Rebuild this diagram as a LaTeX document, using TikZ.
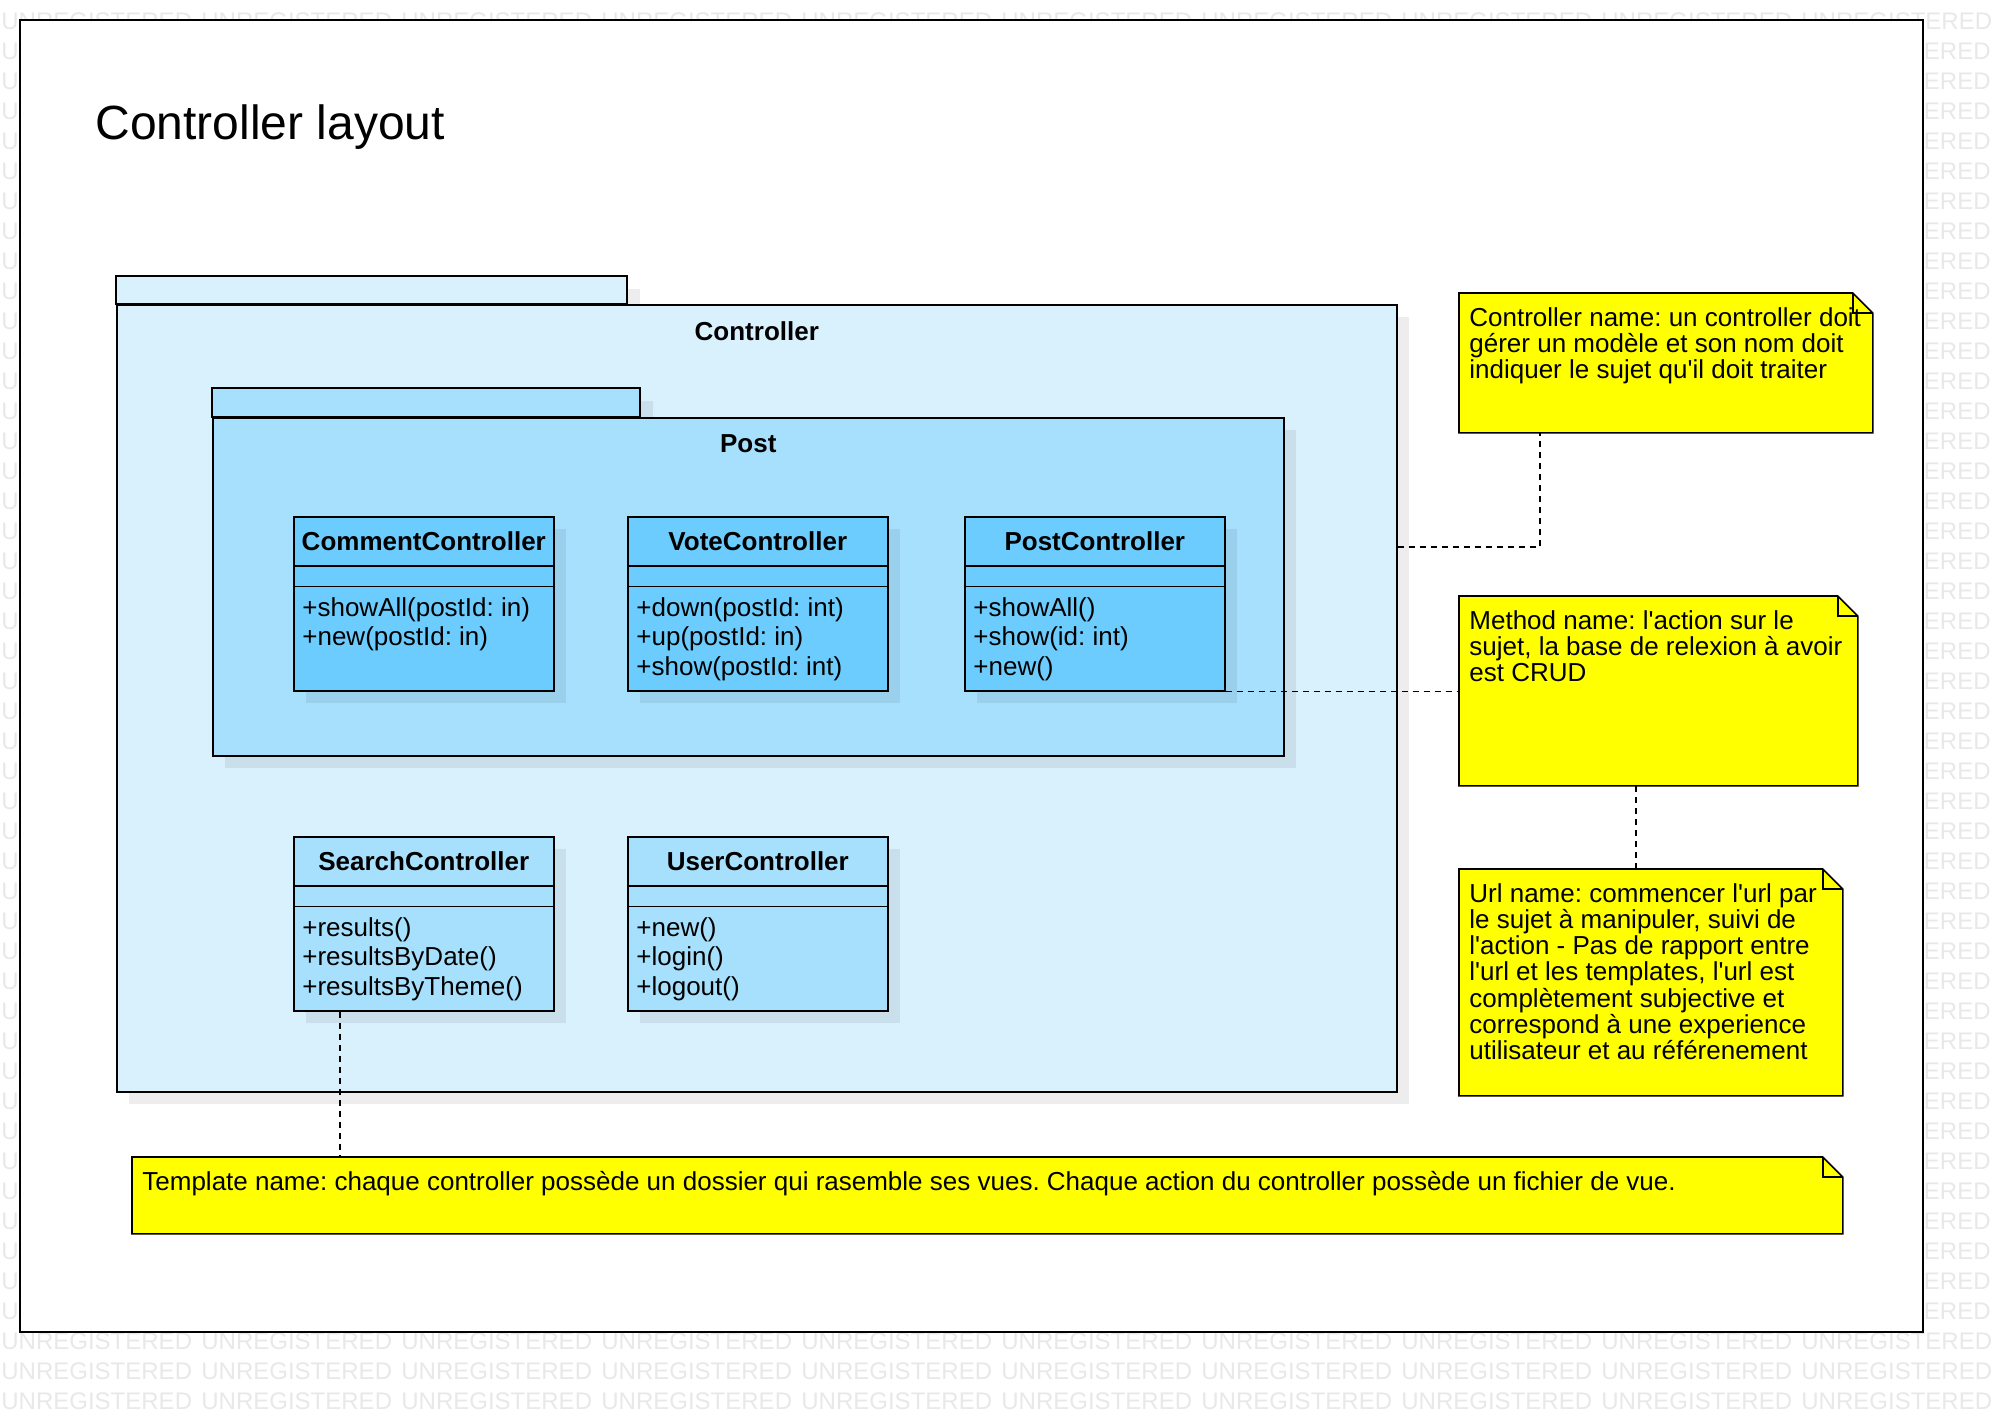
\documentclass[tikz,border=0pt]{standalone}
\usepackage{fontspec}
\newfontfamily\umlfont{Liberation Sans}
\frenchspacing
\definecolor{ctrlpkgblue}{RGB}{217,240,253}
\definecolor{postpkgblue}{RGB}{166,224,253}
\definecolor{classblue}{RGB}{107,204,253}
\definecolor{noteyellow}{RGB}{255,255,0}

\begin{document}
\begin{tikzpicture}[
  outline/.style={draw=black, line width=0.8pt},
  castshadow/.style={fill=black, fill opacity=0.07},
  watermark/.style={anchor=west, inner sep=0pt, text=black!9, font=\umlfont\fontsize{12pt}{12pt}\selectfont},
  pkgbody/.style={outline, anchor=north west, inner sep=0pt},
  pkgname/.style={inner sep=0pt, font=\umlfont\bfseries\fontsize{13pt}{15pt}\selectfont},
  classbox/.style={outline, anchor=north west, inner sep=0pt, minimum width=130pt, minimum height=87pt},
  classname/.style={inner sep=0pt, font=\umlfont\bfseries\fontsize{13pt}{15pt}\selectfont},
  classops/.style={anchor=north west, inner sep=0pt, align=left, font=\umlfont\fontsize{13pt}{14.7pt}\selectfont},
  notebody/.style={anchor=north west, inner sep=0pt},
  notepaper/.style={outline, fill=noteyellow},
  notetext/.style={anchor=north west, inner sep=0pt, align=left, font=\umlfont\fontsize{13pt}{13.1pt}\selectfont},
  notelink/.style={draw=black, line width=0.6pt, dash pattern=on 3pt off 2.5pt}
]
% one unit is one pixel of the exported diagram
\def\umlclass#1#2#3#4#5#6{%
  \fill[castshadow] (#2+13,#3+13) rectangle ++(260,174);
  \node[classbox, fill=#4] (#1) at (#2,#3) {};
  \draw[outline] ([yshift=-25pt]#1.north west) -- ([yshift=-25pt]#1.north east);
  \draw[outline] ([yshift=-35.3pt]#1.north west) -- ([yshift=-35.3pt]#1.north east);
  \node[classname] (#1-name) at ([yshift=-12.5pt]#1.north) {#5};
  \node[classops] (#1-ops) at ([xshift=4.5pt,yshift=-40.5pt]#1.north west) {#6};
}
\def\drawnote#1{%
  \draw[notepaper] (#1.north west) -- ([xshift=-10pt]#1.north east) -- ([yshift=-10pt]#1.north east)
    -- (#1.south east) -- (#1.south west) -- cycle;
  \draw[outline] ([xshift=-10pt]#1.north east) |- ([yshift=-10pt]#1.north east);
}
\begin{scope}[x=0.5pt, y=-0.5pt]
  \useasboundingbox (0,0) rectangle (2004,1412);
  % Watermark: only the parts left outside the frame
  \foreach \r in {0,44,45,46}
    \foreach \c in {0,...,9}
      \node[watermark] (wm-\r-\c) at (200*\c+1, 21+30*\r) {UNREGISTERED};
  \foreach \r in {1,...,43} {
    \node[watermark] (wm-\r-l) at (1, 21+30*\r) {U};
    \node[watermark, anchor=east] (wm-\r-r) at (1991, 21+30*\r) {ERED};
  }
  % Frame
  \draw[outline, fill=white] (20,20) rectangle (1923,1332);
  \node[anchor=base west, inner sep=0pt, font=\umlfont\fontsize{24pt}{28pt}\selectfont] (title) at (95,140) {Controller layout};

  % Controller package
  \fill[castshadow] (129,289) rectangle (640,317);
  \fill[castshadow] (129,317) rectangle (1409,1104);
  \draw[outline, fill=ctrlpkgblue] (116,276) rectangle (627,304);
  \node[pkgbody, fill=ctrlpkgblue, minimum width=640pt, minimum height=393.5pt] (ctrlpkg) at (116,304) {};
  \node[pkgname] (ctrlpkg-name) at ([yshift=-13.5pt]ctrlpkg.north) {Controller};

  % Post package
  \fill[castshadow] (225,401) rectangle (653,430);
  \fill[castshadow] (225,430) rectangle (1296,768);
  \draw[outline, fill=postpkgblue] (212,388) rectangle (640,417);
  \node[pkgbody, fill=postpkgblue, minimum width=535.5pt, minimum height=169pt] (postpkg) at (212,417) {};
  \node[pkgname] (postpkg-name) at ([yshift=-13.5pt]postpkg.north) {Post};

  % Classes
  \umlclass{commentctl}{293}{516}{classblue}{CommentController}{+showAll(postId: in)\\+new(postId: in)}
  \umlclass{votectl}{627}{516}{classblue}{VoteController}{+down(postId: int)\\+up(postId: in)\\+show(postId: int)}
  \umlclass{postctl}{964}{516}{classblue}{PostController}{+showAll()\\+show(id: int)\\+new()}
  \umlclass{searchctl}{293}{836}{postpkgblue}{SearchController}{+results()\\+resultsByDate()\\+resultsByTheme()}
  \umlclass{userctl}{627}{836}{postpkgblue}{UserController}{+new()\\+login()\\+logout()}

  % Notes
  \node[notebody, minimum width=206.5pt, minimum height=69.5pt] (nctrl) at (1459,293) {};
  \drawnote{nctrl}
  \node[notetext] (nctrl-text) at ([xshift=5pt,yshift=-7pt]nctrl.north west)
    {Controller name: un controller doit\\gérer un modèle et son nom doit\\indiquer le sujet qu'il doit traiter};
  \node[notebody, minimum width=199pt, minimum height=94.5pt] (nmeth) at (1459,596) {};
  \drawnote{nmeth}
  \node[notetext] (nmeth-text) at ([xshift=5pt,yshift=-7pt]nmeth.north west)
    {Method name: l'action sur le\\sujet, la base de relexion à avoir\\est CRUD};
  \node[notebody, minimum width=191.5pt, minimum height=113pt] (nurl) at (1459,869) {};
  \drawnote{nurl}
  \node[notetext] (nurl-text) at ([xshift=5pt,yshift=-7pt]nurl.north west)
    {Url name: commencer l'url par\\le sujet à manipuler, suivi de\\l'action - Pas de rapport entre\\l'url et les templates, l'url est\\complètement subjective et\\correspond à une experience\\utilisateur et au référenement};
  \node[notebody, minimum width=855pt, minimum height=38pt] (ntmpl) at (132,1157) {};
  \drawnote{ntmpl}
  \node[notetext] (ntmpl-text) at ([xshift=5pt,yshift=-7pt]ntmpl.north west)
    {Template name: chaque controller possède un dossier qui rasemble ses vues. Chaque action du controller possède un fichier de vue.};

  % Note links
  \draw[notelink] ([yshift=-121.5pt]ctrlpkg.north east) -| ([xshift=40.5pt]nctrl.south west);
  \draw[notelink] (postctl.south east) -- (postctl.south east -| nmeth.west);
  \coordinate (urlhook) at ([xshift=88.5pt]nurl.north west);
  \draw[notelink] (urlhook) -- (urlhook |- nmeth.south);
  \coordinate (searchhook) at ([xshift=23.5pt]searchctl.south west);
  \draw[notelink] (searchhook) -- (searchhook |- ntmpl.north);
\end{scope}
\end{tikzpicture}
\end{document}
